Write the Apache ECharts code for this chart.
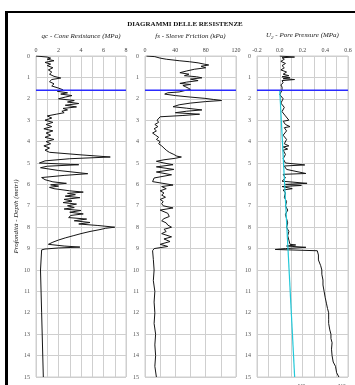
<!DOCTYPE html>
<html><head><meta charset="utf-8">
<script src="https://cdn.jsdelivr.net/npm/echarts@6/dist/echarts.min.js"></script>
<style>html,body{margin:0;padding:0;background:#fff;}#c{width:355px;height:385px;}</style>
</head><body><div id="c"></div>
<script>
// ---- data ----
const depthTicks = [0,1,2,3,4,5,6,7,8,9,10,11,12,13,14,15];
const waterTable = 1.6;

const qcDepth = [0,0.03,0.05,0.10,0.15,0.22,0.30,0.38,0.45,0.55,0.65,0.75,0.85,0.95,1.03,1.10,1.20,1.30,1.40,1.50,1.58,1.65,1.72,1.78,1.85,1.92,2.00,2.08,2.15,2.22,2.30,2.38,2.45,2.52,2.58,2.65,2.72,2.80,2.90,3.00,3.10,3.20,3.30,3.40,3.50,3.60,3.70,3.80,3.90,4.00,4.10,4.20,4.30,4.40,4.50,4.62,4.72,4.80,4.90,5.00,5.08,5.15,5.22,5.35,5.50,5.58,5.68,5.78,5.88,5.95,6.02,6.08,6.14,6.20,6.30,6.36,6.42,6.48,6.55,6.62,6.70,6.78,6.85,6.92,7.00,7.08,7.15,7.22,7.30,7.38,7.45,7.55,7.62,7.70,7.78,7.85,7.92,8.00,8.05,8.12,8.20,8.30,8.40,8.50,8.60,8.70,8.80,8.88,8.93,8.97,9.02,9.06,9.10,10,12,15];
const qcValue = [0,0,1.0,1.3,1.0,1.6,0.8,1.3,1.0,1.5,1.1,1.4,1.2,1.6,2.2,1.4,1.2,1.6,1.4,2.0,2.4,1.9,2.8,2.2,3.2,2.6,2.0,3.4,2.8,3.8,2.6,3.6,2.4,2.8,2.3,2.5,1.8,1.0,1.4,0.8,1.5,0.9,1.4,0.7,1.5,0.9,1.3,0.8,1.6,0.9,1.3,0.7,1.2,0.8,1.2,4.0,6.6,3.0,0.8,0.3,3.8,1.0,0.4,2.0,4.6,2.5,0.5,0.8,1.5,2.7,1.3,2.0,1.2,1.6,3.0,4.2,2.8,3.5,2.6,3.9,2.5,3.2,2.4,3.6,2.8,3.4,2.5,4.0,3.0,4.2,3.1,2.9,4.5,3.4,4.8,3.8,5.5,7.0,6.2,5.6,4.8,4.0,3.3,2.6,2.0,1.5,1.1,2.5,3.9,2.0,0.8,0.5,0.4,0.4,0.5,0.65];

const fsDepth = [0,0.03,0.10,0.15,0.22,0.27,0.32,0.38,0.42,0.48,0.55,0.62,0.70,0.78,0.85,0.92,0.97,1.02,1.08,1.15,1.22,1.28,1.33,1.38,1.43,1.50,1.56,1.62,1.68,1.72,1.78,1.85,1.92,1.98,2.03,2.08,2.13,2.20,2.28,2.37,2.44,2.52,2.58,2.65,2.72,2.78,2.84,2.90,3.00,3.10,3.20,3.30,3.40,3.50,3.60,3.70,3.80,3.90,4.00,4.10,4.20,4.30,4.40,4.50,4.60,4.68,4.72,4.78,4.85,4.92,5.00,5.08,5.18,5.30,5.42,5.55,5.70,5.87,6.03,6.10,6.20,6.30,6.40,6.50,6.60,6.70,6.80,6.90,7.00,7.10,7.20,7.35,7.50,7.60,7.70,7.80,7.90,8.00,8.10,8.20,8.30,8.45,8.55,8.67,8.80,8.90,9.00,9.10,9.5,10,10.5,11,11.5,12,12.5,13,13.5,14,14.5,15];
const fsValue = [2,13,20,28,45,59,70,78,84,74,80,65,55,46,58,52,68,75,60,70,55,46,60,50,53,57,60,52,45,30,26,40,60,79,90,101,80,60,45,37,55,75,55,40,72,50,20,22,16,18,13,17,12,15,10,14,18,15,20,18,22,25,28,32,38,42,48,40,25,15,25,37,15,38,15,35,12,10,37,22,28,20,25,22,27,20,24,22,24,37,20,30,32,25,22,28,30,35,25,28,22,35,25,33,20,30,12,10,11,12,11,13,12,13,12,14,13,14,13,15];

const u2Depth = [0,0.05,0.08,0.15,0.25,0.35,0.45,0.55,0.65,0.75,0.85,0.92,0.97,1.02,1.06,1.10,1.15,1.25,1.35,1.45,1.60,1.80,2.00,2.20,2.40,2.60,2.80,3.00,3.05,3.20,3.30,3.35,3.50,3.70,3.90,4.10,4.20,4.25,4.35,4.40,4.60,4.80,5.00,5.09,5.14,5.30,5.49,5.53,5.70,5.85,5.95,6.00,6.05,6.10,6.20,6.26,6.40,6.60,6.80,7.00,7.20,7.40,7.60,7.80,8.00,8.20,8.40,8.60,8.80,8.83,8.88,8.94,9.00,9.04,9.10,9.30,9.53,9.80,10.0,10.2,10.47,10.7,11.0,11.3,11.55,11.8,12.0,12.3,12.5,12.8,13.0,13.2,13.4,13.7,14.0,14.3,14.5,14.8,15.0];
const u2Value = [0,0.13,0.02,0.04,0.01,0.05,0.02,0.04,0.01,0.06,0.03,0.08,0.02,0.09,0.03,0.13,0.02,0.03,0.01,0.02,0.02,0.0,0.03,0.01,0.04,0.02,0.05,0.08,0.03,0.05,0.09,0.04,0.06,0.03,0.06,0.04,0.08,0.03,0.07,0.03,0.05,0.03,0.05,0.22,0.04,0.06,0.23,0.03,0.05,0.02,0.24,0.05,0.19,0.02,0.11,0.03,0.05,0.04,0.06,0.05,0.07,0.05,0.06,0.07,0.06,0.08,0.07,0.08,0.09,0.14,0.06,0.23,0.05,-0.04,0.33,0.34,0.34,0.36,0.37,0.37,0.38,0.38,0.39,0.40,0.41,0.42,0.43,0.43,0.43,0.44,0.45,0.45,0.46,0.455,0.46,0.47,0.49,0.50,0.52];

const u0Depth = [1.6, 15];
const u0Value = [0, 0.131];

const titleText = 'DIAGRAMMI DELLE RESISTENZE';
const panelNames = ['qc - Cone Resistance (MPa)', 'fs - Sleeve Friction (kPa)', '{u|U}{s|2}{u| - Pore Pressure (MPa)}'];
const depthName = 'Profondità - Depth (metri)';

// ---- chart ----
const pairs = (d, v) => d.map((y, i) => [v[i], y]);
const serif = 'Liberation Serif';
const gridCol = '#cfcfcf';
const panels = [
  {left: 36, width: 90, min: 0, max: 8, interval: 1, fmt: v => (Math.round(v) % 2 === 0 ? String(Math.round(v)) : '')},
  {left: 145, width: 91, min: 0, max: 120, interval: 20, fmt: v => (Math.round(v) % 40 === 0 ? String(Math.round(v)) : '')},
  {left: 257, width: 91, min: -0.2, max: 0.6, interval: 0.1, fmt: v => (Math.round(v * 10) % 2 === 0 ? (Math.round(v*10)/10).toFixed(1) : '')}
];
const grids = panels.map(p => ({left: p.left, top: 56, width: p.width, height: 321, show: true, borderColor: gridCol, borderWidth: 1}));
const xAxes = panels.map((p, i) => ({
  type: 'value', gridIndex: i, position: 'top', min: p.min, max: p.max, interval: p.interval,
  name: panelNames[i], nameLocation: 'middle', nameGap: 16,
  nameTextStyle: {fontFamily: serif, fontStyle: 'italic', fontSize: 7, color: '#222',
    rich: {u: {fontFamily: serif, fontStyle: 'italic', fontSize: 7, color: '#222'}, s: {fontFamily: serif, fontStyle: 'italic', fontSize: 5, color: '#222', verticalAlign: 'bottom', padding: [4,0,0,0]}}},
  axisLine: {show: false}, axisTick: {show: false},
  axisLabel: {fontFamily: serif, fontSize: 6, color: '#444', margin: 3, formatter: p.fmt, showMinLabel: true, showMaxLabel: true},
  splitLine: {show: true, lineStyle: {color: gridCol, width: 1}}
}));
const yAxes = panels.map((p, i) => ({
  type: 'value', gridIndex: i, inverse: true, min: 0, max: 15, interval: 1,
  axisLine: {show: false}, axisTick: {show: false},
  axisLabel: {fontFamily: serif, fontSize: 6, color: '#555', margin: 6, formatter: v => String(v)},
  splitLine: {show: true, lineStyle: {color: gridCol, width: 1}},
  name: i === 0 ? depthName : '', nameLocation: 'middle', nameRotate: 90, nameGap: 11,
  nameTextStyle: {fontFamily: serif, fontStyle: 'italic', fontSize: 7, color: '#222'}
}));
const blackLine = {color: '#151515', width: 1};
const series = [
  {type: 'line', name: 'qc', xAxisIndex: 0, yAxisIndex: 0, data: pairs(qcDepth, qcValue), showSymbol: false, lineStyle: blackLine, itemStyle: {color: '#151515'}},
  {type: 'line', name: 'fs', xAxisIndex: 1, yAxisIndex: 1, data: pairs(fsDepth, fsValue), showSymbol: false, lineStyle: blackLine, itemStyle: {color: '#151515'}},
  {type: 'line', name: 'U0', xAxisIndex: 2, yAxisIndex: 2, data: pairs(u0Depth, u0Value), showSymbol: false, lineStyle: {color: '#22c8d8', width: 1.2}, itemStyle: {color: '#22c8d8'}, z: 3},
  {type: 'line', name: 'U2', xAxisIndex: 2, yAxisIndex: 2, data: pairs(u2Depth, u2Value), showSymbol: false, lineStyle: blackLine, itemStyle: {color: '#e6dc5a'}, z: 2}
];
panels.forEach((p, i) => {
  series.push({type: 'line', xAxisIndex: i, yAxisIndex: i, data: [[p.min, waterTable], [p.max, waterTable]], showSymbol: false, silent: true,
    lineStyle: {color: '#2b2bff', width: 1.5}, z: 4});
});

const chart = echarts.init(document.getElementById('c'), null, {renderer: 'canvas'});
chart.setOption({
  animation: false,
  backgroundColor: '#fff',
  grid: grids, xAxis: xAxes, yAxis: yAxes, series: series,
  legend: {data: [{name: 'U0'}, {name: 'U2'}], left: 276, top: 378, itemWidth: 12, itemHeight: 2, itemGap: 16, icon: 'rect',
    textStyle: {fontFamily: serif, fontSize: 6, color: '#555'}},
  graphic: [
    {type: 'rect', shape: {x: 5, y: 11, width: 350, height: 2}, style: {fill: '#000'}},
    {type: 'rect', shape: {x: 5, y: 11, width: 3, height: 374}, style: {fill: '#000'}},
    {type: 'text', x: 185, y: 24, style: {text: titleText, font: 'bold 7px "Liberation Serif"', fill: '#111', textAlign: 'center', textVerticalAlign: 'middle'}}
  ]
});
</script></body></html>
